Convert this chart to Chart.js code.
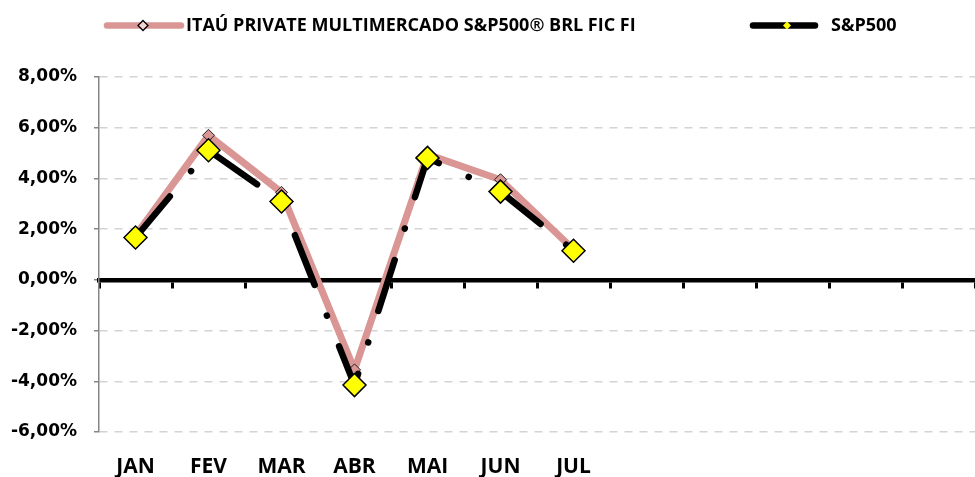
<!DOCTYPE html>
<html>
<head>
<meta charset="utf-8">
<script src="https://cdn.jsdelivr.net/npm/chart.js@4.4.0/dist/chart.umd.min.js"></script>
<style>
  html, body { margin: 0; padding: 0; background: #fff; overflow: hidden; }
  #wrap { width: 975px; height: 477px; }
</style>
</head>
<body>
<div id="wrap"><canvas id="grafico"></canvas></div>
<script>
// dados (rentabilidade mensal, em %)
const meses = ['JAN', 'FEV', 'MAR', 'ABR', 'MAI', 'JUN', 'JUL', '', '', '', '', ''];
const itauPrivate = [1.75, 5.70, 3.45, -3.55, 4.95, 3.95, 1.20];
const sp500 = [1.67, 5.11, 3.09, -4.15, 4.81, 3.48, 1.15];
const yTicks = [-6, -4, -2, 0, 2, 4, 6, 8];
const nomes = ['ITAÚ PRIVATE MULTIMERCADO S&P500® BRL FIC FI', 'S&P500'];

const ROSA = '#D99694';
const FONTE = "'Open Sans', 'DejaVu Sans', sans-serif";

function formatarPct(v) {
    return v.toFixed(2).replace('.', ',') + '%';
}

function losango(ctx, x, y, r, fill, stroke, lw) {
    ctx.beginPath();
    ctx.moveTo(x, y - r);
    ctx.lineTo(x + r, y);
    ctx.lineTo(x, y + r);
    ctx.lineTo(x - r, y);
    ctx.closePath();
    ctx.fillStyle = fill;
    ctx.fill();
    if (lw) {
        ctx.lineWidth = lw;
        ctx.strokeStyle = stroke;
        ctx.stroke();
    }
}

// legenda no topo, no estilo do Excel
const legendaTopo = {
    id: 'legendaTopo',
    afterDraw(chart) {
        const ctx = chart.ctx;
        const y = 25.5;
        const itens = [
            { x0: 107, x1: 181, mx: 143, cor: ROSA, fill: '#F2D4D3', stroke: '#000', r: 5, lw: 1.3, tx: 186, nome: nomes[0] },
            { x0: 753, x1: 815, mx: 787, cor: '#000', fill: '#FFFF00', stroke: '#FFFF00', r: 4, lw: 0, tx: 831, nome: nomes[1] }
        ];
        ctx.save();
        itens.forEach(it => {
            ctx.beginPath();
            ctx.lineCap = 'round';
            ctx.lineWidth = 6.5;
            ctx.strokeStyle = it.cor;
            ctx.moveTo(it.x0, y);
            ctx.lineTo(it.x1, y);
            ctx.stroke();
            losango(ctx, it.mx, y, it.r, it.fill, it.stroke, it.lw);
            ctx.fillStyle = '#000';
            ctx.font = 'bold 18px ' + FONTE;
            ctx.textBaseline = 'middle';
            ctx.textAlign = 'left';
            ctx.fillText(it.nome, it.tx, y);
        });
        ctx.restore();
    }
};

const ctx = document.getElementById('grafico').getContext('2d');

new Chart(ctx, {
    type: 'line',
    data: {
        labels: meses,
        datasets: [
            {
                label: nomes[0],
                data: itauPrivate,
                order: 1,
                borderColor: ROSA,
                borderWidth: 7,
                borderCapStyle: 'round',
                borderJoinStyle: 'round',
                tension: 0,
                pointStyle: 'rectRot',
                pointRadius: 6,
                pointBackgroundColor: ROSA,
                pointBorderColor: '#222',
                pointBorderWidth: 1
            },
            {
                label: nomes[1],
                data: sp500,
                order: 0,
                borderColor: '#000',
                borderWidth: 6.5,
                borderDash: [53.5, 33, 0.1, 33],
                borderCapStyle: 'round',
                borderJoinStyle: 'round',
                tension: 0,
                pointStyle: 'rectRot',
                pointRadius: 11.5,
                pointBackgroundColor: '#FFFF00',
                pointBorderColor: '#000',
                pointBorderWidth: 1.5
            }
        ]
    },
    options: {
        responsive: true,
        maintainAspectRatio: false,
        animation: false,
        layout: {
            autoPadding: false,
            padding: { top: 77, right: 0, bottom: 0, left: 0 }
        },
        plugins: {
            legend: { display: false },
            tooltip: { enabled: false }
        },
        scales: {
            // eixo no zero, com as marcas entre os meses
            x: {
                type: 'category',
                position: { y: 0 },
                offset: true,
                grid: {
                    offset: true,
                    drawOnChartArea: false,
                    drawTicks: true,
                    tickLength: 6,
                    tickColor: '#000',
                    tickWidth: 3
                },
                border: { display: true, color: '#000', width: 4.5 },
                ticks: { display: false, autoSkip: false }
            },
            // rótulos dos meses embaixo
            x2: {
                type: 'category',
                position: 'bottom',
                offset: true,
                grid: { display: false, drawTicks: false },
                border: { display: false },
                ticks: {
                    autoSkip: false,
                    maxRotation: 0,
                    padding: 22,
                    color: '#000',
                    font: { family: FONTE, size: 21, weight: 'bold' }
                },
                afterFit: (scale) => {
                    scale.height = 45;
                    scale.paddingLeft = 0;
                    scale.paddingRight = 0;
                }
            },
            y: {
                min: yTicks[0],
                max: yTicks[yTicks.length - 1],
                ticks: {
                    stepSize: yTicks[1] - yTicks[0],
                    padding: 17,
                    color: '#000',
                    font: { family: "'DejaVu Sans', sans-serif", size: 17, weight: 'bold' },
                    callback: (v) => formatarPct(v)
                },
                grid: {
                    color: '#D4D4D4',
                    lineWidth: 1.5,
                    tickColor: '#868686',
                    tickLength: 5,
                    tickWidth: 1.5,
                    tickBorderDash: []
                },
                border: { display: true, color: '#868686', width: 1.5, dash: [8, 7] },
                afterFit: (scale) => { scale.width = 99; }
            }
        }
    },
    plugins: [legendaTopo]
});
</script>
</body>
</html>
